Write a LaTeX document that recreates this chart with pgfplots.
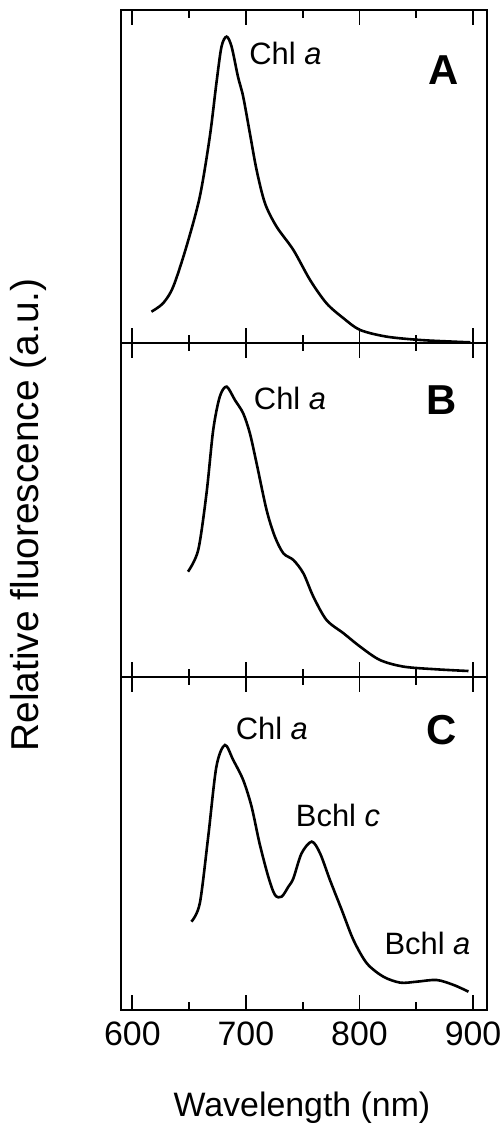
\documentclass[border=0pt]{standalone}
\usepackage{fontspec}
\setmainfont{Liberation Sans}
\usepackage{pgfplots}
\pgfplotsset{compat=1.18}
\pgfplotsset{panel/.style={
  width=366bp, height=333.33bp, scale only axis,
  xmin=590, xmax=912.3, ymin=0, ymax=100,
  xtick={600,700,800,900}, minor xtick={650,750,850},
  ytick=\empty, tick align=inside, tick pos=both,
  major tick length=15bp, minor tick length=8bp,
  tick style={black, line width=1.8bp},
  minor tick style={black, line width=1.8bp},
  axis line style={line width=2.2bp},
  clip=false,
  /pgf/number format/assume math mode=true,
  /pgf/number format/1000 sep={},
  xticklabel style={font=\fontsize{34}{36}\selectfont, yshift=-8bp},
}}
\newcommand{\lab}{\fontsize{31}{34}\selectfont}
\newcommand{\panellab}{\fontsize{42}{44}\selectfont\bfseries}
\begin{document}
\begin{tikzpicture}
\path[use as bounding box] (-121bp,-122bp) rectangle (383bp,1010bp);
% Panel A
\begin{axis}[panel, at={(0,666.67bp)}, xticklabels={}]
\addplot[black, line width=2.6bp, smooth, tension=0.5] coordinates {
(616.8,9.5) (627,12) (636,17) (647.6,29) (659.4,44) (668.2,62) (674,78) (678.5,89) (683,92)
(687.4,89) (693,80) (697.6,74) (703.5,63) (709.4,52) (716.8,42) (727,35) (741.8,28)
(756.5,19) (771,12) (786,7.5) (800.6,4) (824,2) (853.5,1) (883,0.5) (897.6,0.3)};
\node[anchor=west, font=\lab] at (axis cs:700,87) {Chl \textit{a}};
\node[font=\panellab] at (axis cs:874,82) {A};
\end{axis}
% Panel B
\begin{axis}[panel, at={(0,333.33bp)}, xticklabels={}]
\addplot[black, line width=2.6bp, smooth, tension=0.5] coordinates {
(649,31.5) (658,38) (665.3,55) (671.2,74) (677,84) (683,87) (690.3,83) (697.6,79)
(703.5,73) (709.4,64) (718.2,50) (725.5,42) (733,37) (741.8,35) (750.6,31) (759.4,24)
(771,17) (786,13) (800.6,9) (818,5) (839,3) (868,2.2) (896,1.7)};
\node[anchor=west, font=\lab] at (axis cs:704,83.5) {Chl \textit{a}};
\node[font=\panellab] at (axis cs:872.6,83) {B};
\end{axis}
% Panel C
\begin{axis}[panel, at={(0,0)}]
\addplot[black, line width=2.6bp, smooth, tension=0.5] coordinates {
(652,26.5) (659.4,32) (666.8,52) (674,73) (681.5,79.5) (688.8,75) (697.6,69) (705,61)
(712,50) (719.7,40) (725.6,34.5) (731.5,34) (737.4,37) (741.8,39.5) (749,47) (758,50.5)
(765.3,47) (774,39) (784.4,30) (794.7,21) (806.5,14) (821,10) (836,8.2) (850.6,8.5)
(868,9) (883,7.5) (896,5.5)};
\node[anchor=west, font=\lab] at (axis cs:688,84.5) {Chl \textit{a}};
\node[anchor=west, font=\lab] at (axis cs:741,58.5) {Bchl \textit{c}};
\node[anchor=west, font=\lab] at (axis cs:819,20) {Bchl \textit{a}};
\node[font=\panellab] at (axis cs:872.6,84) {C};
\end{axis}
\node[rotate=90, font=\fontsize{39}{41}\selectfont] at (-93bp,495bp) {Relative fluorescence (a.u.)};
\node[font=\fontsize{34}{36}\selectfont] at (181bp,-98bp) {Wavelength (nm)};
\end{tikzpicture}
\end{document}
